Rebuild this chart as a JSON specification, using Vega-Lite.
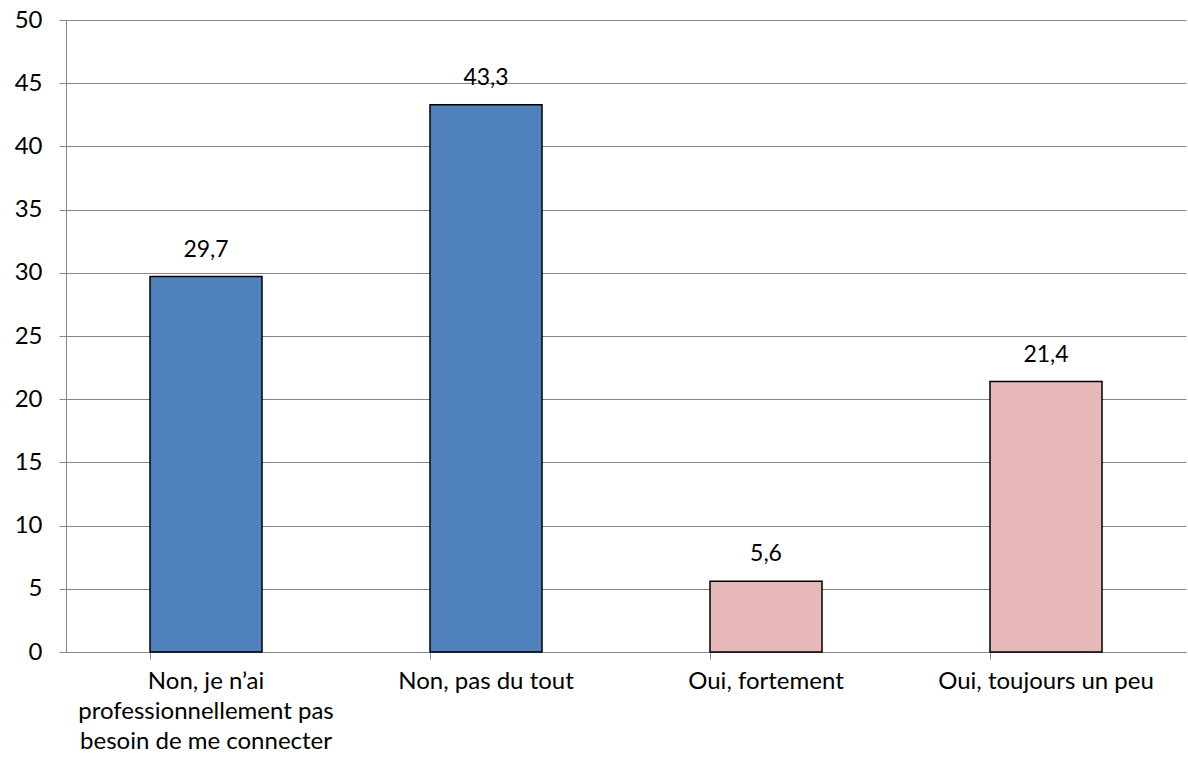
{
  "$schema": "https://vega.github.io/schema/vega-lite/v6.json",
  "autosize": "none",
  "width": 1120,
  "height": 632,
  "padding": {"left": 66, "top": 20, "right": 2, "bottom": 107},
  "background": "white",
  "config": {
    "view": {"stroke": null},
    "font": "Lato",
    "locale": {"number": {"decimal": ",", "thousands": " ", "grouping": [3], "currency": ["", " €"]}}
  },
  "data": {
    "values": [
      {"categorie": "Non, je n’ai professionnellement pas besoin de me connecter", "valeur": 29.7, "groupe": "Non"},
      {"categorie": "Non, pas du tout", "valeur": 43.3, "groupe": "Non"},
      {"categorie": "Oui, fortement", "valeur": 5.6, "groupe": "Oui"},
      {"categorie": "Oui, toujours un peu", "valeur": 21.4, "groupe": "Oui"}
    ]
  },
  "encoding": {
    "x": {
      "field": "categorie",
      "type": "nominal",
      "sort": null,
      "scale": {"paddingInner": 0.6, "paddingOuter": 0.3},
      "axis": {
        "title": null,
        "labelAngle": 0,
        "labelFont": "Lato",
        "labelFontSize": 24,
        "labelColor": "#000000",
        "labelPadding": 10,
        "labelLineHeight": 30,
        "labelLimit": 400,
        "bandPosition": 0,
        "tickColor": "#868686",
        "tickSize": 7,
        "domainColor": "#868686",
        "grid": false,
        "labelExpr": "datum.label == 'Non, je n’ai professionnellement pas besoin de me connecter' ? ['Non, je n’ai', 'professionnellement pas', 'besoin de me connecter'] : datum.label"
      }
    },
    "y": {
      "field": "valeur",
      "type": "quantitative",
      "scale": {"domain": [0, 50], "nice": false},
      "axis": {
        "title": null,
        "values": [0, 5, 10, 15, 20, 25, 30, 35, 40, 45, 50],
        "labelFont": "Lato",
        "labelFontSize": 24,
        "labelColor": "#000000",
        "labelPadding": 17,
        "tickColor": "#868686",
        "tickSize": 7,
        "domainColor": "#868686",
        "gridColor": "#868686",
        "gridWidth": 1.2
      }
    }
  },
  "layer": [
    {
      "mark": {"type": "bar", "stroke": "#000000", "strokeWidth": 1.5},
      "encoding": {
        "color": {
          "field": "groupe",
          "type": "nominal",
          "scale": {"domain": ["Non", "Oui"], "range": ["#4F81BD", "#E6B9B8"]},
          "legend": null
        }
      }
    },
    {
      "mark": {"type": "text", "baseline": "alphabetic", "dy": -20, "fontSize": 23, "font": "Lato", "color": "#000000"},
      "encoding": {
        "text": {"field": "valeur", "type": "quantitative", "format": ".1f"}
      }
    }
  ]
}
